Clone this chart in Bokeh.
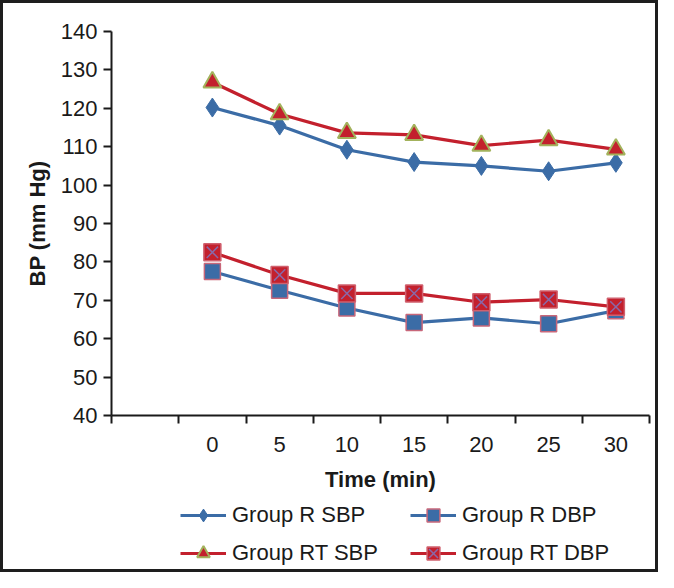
from bokeh.plotting import figure
from bokeh.layouts import column
from bokeh.models import Range1d, FixedTicker, Legend, LegendItem
from bokeh.embed import file_html
from bokeh.resources import INLINE

# Data
time_min = [0, 5, 10, 15, 20, 25, 30]
group_r_sbp = [120.2, 115.5, 109.2, 106.0, 105.0, 103.6, 105.8]
group_rt_sbp = [126.8, 118.5, 113.6, 113.1, 110.3, 111.7, 109.3]
group_r_dbp = [77.5, 72.6, 68.0, 64.2, 65.4, 63.9, 67.3]
group_rt_dbp = [82.5, 76.6, 71.8, 71.8, 69.5, 70.2, 68.3]
y_ticks = [40, 50, 60, 70, 80, 90, 100, 110, 120, 130, 140]
x_boundaries = [-7.5, -2.5, 2.5, 7.5, 12.5, 17.5, 22.5, 27.5, 32.5]
series_names = ["Group R SBP", "Group R DBP", "Group RT SBP", "Group RT DBP"]

BLUE = "#3b6ca6"
RED = "#c3202d"
FONT = "Liberation Sans"
INK = "#1a1a1a"

styles = {
    "Group R SBP": dict(color=BLUE, marker="diamond", size=19, fill=BLUE, outline=BLUE, lw=1),
    "Group R DBP": dict(color=BLUE, marker="square", size=16, fill=BLUE, outline="#c8677a", lw=1.5),
    "Group RT SBP": dict(color=RED, marker="triangle", size=18, fill=RED, outline="#a3b25c", lw=2),
    "Group RT DBP": dict(color=RED, marker="square", size=17, fill=RED, outline="#d0606e", lw=1.5),
}
values = {
    "Group R SBP": group_r_sbp,
    "Group R DBP": group_r_dbp,
    "Group RT SBP": group_rt_sbp,
    "Group RT DBP": group_rt_dbp,
}


def draw_series(fig, name, xs, ys):
    st = styles[name]
    rs = [fig.line(xs, ys, line_color=st["color"], line_width=3.2)]
    rs.append(fig.scatter(xs, ys, marker=st["marker"], size=st["size"], fill_color=st["fill"],
                          line_color=st["outline"], line_width=st["lw"]))
    if name == "Group RT DBP":
        rs.append(fig.scatter(xs, ys, marker="x", size=16, line_color="#8a68a8", line_width=1.5))
    return rs


p = figure(width=652, height=495, output_backend="svg", toolbar_location=None,
           x_range=Range1d(-7.5, 32.5), y_range=Range1d(40, 140),
           min_border_left=108, min_border_top=28, min_border_right=6, min_border_bottom=83)
p.outline_line_color = None
p.xgrid.visible = False
p.ygrid.visible = False

for name in series_names:
    draw_series(p, name, time_min, values[name])

# Axes
xa = p.xaxis[0]
xa.ticker = FixedTicker(ticks=time_min, minor_ticks=x_boundaries)
xa.major_tick_line_color = None
xa.major_tick_out = 0
xa.major_tick_in = 0
xa.minor_tick_line_color = INK
xa.minor_tick_line_width = 2
xa.minor_tick_out = 8
xa.minor_tick_in = 0
xa.axis_line_color = INK
xa.axis_line_width = 2
xa.major_label_text_font = FONT
xa.major_label_text_font_size = "22px"
xa.major_label_text_color = INK
xa.major_label_standoff = 13
xa.axis_label = "Time (min)"
xa.axis_label_text_font = FONT
xa.axis_label_text_font_style = "bold"
xa.axis_label_text_font_size = "22px"
xa.axis_label_text_color = INK
xa.axis_label_standoff = 12

ya = p.yaxis[0]
ya.ticker = FixedTicker(ticks=y_ticks)
ya.major_tick_line_color = INK
ya.major_tick_line_width = 2
ya.major_tick_out = 8
ya.major_tick_in = 0
ya.minor_tick_line_color = None
ya.axis_line_color = INK
ya.axis_line_width = 2
ya.major_label_text_font = FONT
ya.major_label_text_font_size = "22px"
ya.major_label_text_color = INK
ya.major_label_standoff = 6
ya.axis_label = "BP (mm Hg)"
ya.axis_label_text_font = FONT
ya.axis_label_text_font_style = "bold"
ya.axis_label_text_font_size = "22px"
ya.axis_label_text_color = INK
ya.axis_label_standoff = 8

# Legend strip: a small figure below the chart whose frame is aligned with the chart's.
# The series are drawn there too, but out of its view (y range 0..1), so only the legend shows.
pl = figure(width=652, height=71, output_backend="svg", toolbar_location=None,
            x_range=Range1d(-7.5, 32.5), y_range=Range1d(0, 1),
            min_border_left=0, min_border_top=0, min_border_right=0, min_border_bottom=0)
pl.axis.visible = False
pl.xgrid.visible = False
pl.ygrid.visible = False
pl.outline_line_color = None

proxies = {name: draw_series(pl, name, time_min, values[name]) for name in series_names}
legend_order = ["Group R SBP", "Group RT SBP", "Group R DBP", "Group RT DBP"]
legend = Legend(items=[LegendItem(label=n, renderers=proxies[n]) for n in legend_order],
                ncols=2, location=(69, 0))
legend.border_line_color = None
legend.background_fill_alpha = 0
legend.padding = 0
legend.margin = 0
legend.spacing = 6
legend.glyph_width = 46
legend.glyph_height = 32
legend.label_standoff = 6
legend.label_width = 172
legend.label_text_font = FONT
legend.label_text_font_size = "22px"
legend.label_text_color = INK
pl.add_layout(legend, "center")

layout = column(p, pl, spacing=0, styles={"border": "3px solid #1e1e1e"})

open("out.html", "w").write(file_html(layout, INLINE))
